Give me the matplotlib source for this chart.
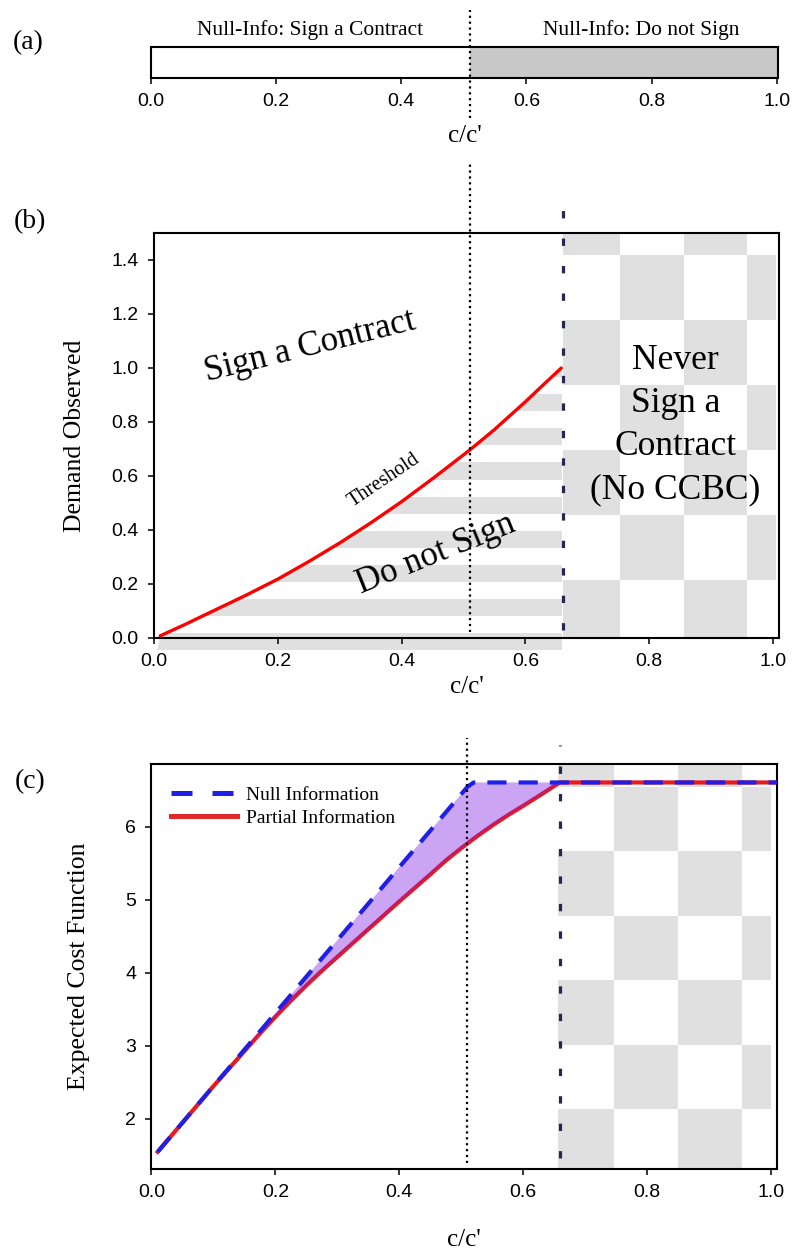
import numpy as np
import matplotlib
matplotlib.use("Agg")
import matplotlib.pyplot as plt
from matplotlib.patches import Polygon, Rectangle
from matplotlib.lines import Line2D

plt.rcParams['font.family'] = ['Liberation Serif', 'DejaVu Serif']

# ---- data ----
null_switch = 0.51      # null-info: sign below, do not sign above
never_sign = 0.66       # beyond this c/c' no contract is ever signed

# threshold of observed demand (panel b)
thresh_c = [0.01, 0.05, 0.1, 0.15, 0.2, 0.25, 0.3, 0.35, 0.4, 0.45, 0.51, 0.55, 0.6, 0.63, 0.658]
thresh_d = [0.008, 0.05, 0.105, 0.16, 0.218, 0.283, 0.352, 0.426, 0.505, 0.59, 0.696, 0.772, 0.875, 0.94, 1.0]

# expected cost (panel c)
null_c = [0.01, 0.51, 0.52, 1.01]
null_v = [1.55, 6.55, 6.61, 6.61]
part_c = [0.01, 0.1, 0.15, 0.175, 0.2, 0.225, 0.25, 0.275, 0.3, 0.35, 0.4, 0.45, 0.475,
          0.5, 0.525, 0.55, 0.575, 0.6, 0.63, 0.659, 1.01]
part_v = [1.55, 2.45, 2.93, 3.17, 3.40, 3.62, 3.83, 4.03, 4.22, 4.6, 4.98, 5.35, 5.54,
          5.71, 5.87, 6.02, 6.16, 6.29, 6.45, 6.61, 6.61]

x_ticks = [0.0, 0.2, 0.4, 0.6, 0.8, 1.0]
b_yticks = [0.0, 0.2, 0.4, 0.6, 0.8, 1.0, 1.2, 1.4]
c_yticks = [2, 3, 4, 5, 6]

GREY = '#e0e0e0'
NAVY = '#26264f'

W, H = 803, 1254
fig = plt.figure(figsize=(W / 100, H / 100), dpi=100)


def px_axes(left, top, right, bottom):
    return fig.add_axes([left / W, 1 - bottom / H, (right - left) / W, (bottom - top) / H])


def style(ax, fs):
    for s in ax.spines.values():
        s.set_linewidth(1.5)
    ax.tick_params(direction='out', length=4, width=1.1, labelsize=fs,
                   labelfontfamily='Liberation Sans', pad=7)


def checker(ax, x0, x1, xgrid, xstep, ygrid, ystep, yhi):
    # grey/white board, columns counted from xgrid, rows from the bottom
    xs = np.arange(xgrid, x1 + xstep, xstep)
    ys = np.arange(ygrid, yhi + ystep, ystep)
    for j in range(len(xs) - 1):
        for i in range(len(ys) - 1):
            if (i + j) % 2:
                continue
            left = max(xs[j], x0)
            right = min(xs[j + 1], x1)
            if right <= left:
                continue
            ax.add_patch(Rectangle((left, ys[i]), right - left, ystep,
                                   facecolor=GREY, edgecolor='none', zorder=0))


# ---- (a) ----
ax_a = px_axes(151, 47, 778, 78)
ax_a.axvspan(null_switch, 1.01, color='#c8c8c8', zorder=0)
ax_a.set_xlim(0, 1.002)
ax_a.set_ylim(0, 1)
ax_a.set_yticks([])
ax_a.set_xticks(x_ticks)
style(ax_a, 14)
ax_a.axvline(null_switch, ymin=-1.3, ymax=2.2, color='black', ls=':', lw=1.6, clip_on=False)
ax_a.text(0.254, 1.55, 'Null-Info: Sign a Contract', ha='center', va='center', fontsize=15.5)
ax_a.text(0.784, 1.55, 'Null-Info: Do not Sign', ha='center', va='center', fontsize=15.5)
ax_a.set_xlabel("c/c'", fontsize=18)
ax_a.xaxis.set_label_coords(0.5, -1.5)

# ---- (b) ----
ax_b = px_axes(154, 233, 779, 638)
ax_b.set_xlim(0, 1.0097)
ax_b.set_ylim(0, 1.5)

# horizontal stripes under the threshold curve
region = Polygon(list(zip(thresh_c, thresh_d)) + [(never_sign, 1.0), (never_sign, -0.1), (0.0, -0.1)],
                 closed=True, facecolor='none', edgecolor='none', transform=ax_b.transData)
ax_b.add_patch(region)
for y0 in np.arange(0.081 - 0.1265, 1.0, 0.1265):
    band = ax_b.fill_between([0.0, 0.659], y0, y0 + 0.063, color=GREY, lw=0, zorder=0)
    band.set_clip_path(region)

checker(ax_b, never_sign, 1.005, 0.6505, 0.1025, 0.215 - 0.241, 0.241, 1.5)

ax_b.plot(thresh_c, thresh_d, color='#ff0000', lw=2.4, zorder=3, solid_capstyle='round')
ax_b.axvline(null_switch, ymin=0.015, ymax=1.173, color='black', ls=':', lw=1.6, clip_on=False, zorder=4)
ax_b.axvline(never_sign, ymin=0.02, ymax=1.064, color=NAVY, ls=(0, (2.3, 6.3)), lw=2.3,
             clip_on=False, zorder=4)

ax_b.text(0.252, 1.078, 'Sign a Contract', rotation=14, ha='center', va='center',
          rotation_mode='anchor', fontsize=25)
ax_b.text(0.456, 0.31, 'Do not Sign', rotation=22, ha='center', va='center',
          rotation_mode='anchor', fontsize=25)
ax_b.text(0.371, 0.585, 'Threshold', rotation=34, ha='center', va='center',
          rotation_mode='anchor', fontsize=14.5)
ax_b.text(0.842, 0.789, 'Never\nSign a\nContract\n(No CCBC)', ha='center', va='center',
          fontsize=25.5, linespacing=1.4)

ax_b.set_xticks(x_ticks)
ax_b.set_yticks(b_yticks)
style(ax_b, 14)
ax_b.set_xlabel("c/c'", fontsize=18)
ax_b.xaxis.set_label_coords(0.5, -0.094)
ax_b.set_ylabel('Demand Observed', fontsize=18.5)
ax_b.yaxis.set_label_coords(-0.109, 0.5)

# ---- (c) ----
ax_c = px_axes(151.5, 764, 777, 1169)
ax_c.set_xlim(0, 1.0097)
ax_c.set_ylim(1.315, 6.863)

checker(ax_c, 0.656, 1.0, 0.644, 0.103, 2.137 - 0.883, 0.883, 6.863)

ax_c.plot(part_c, part_v, color='#e8191f', lw=3, zorder=2, label='Partial Information')
# gap between the two cost curves
k = part_c.index(0.659)
gap_c = null_c[:3] + part_c[:k + 1][::-1]
gap_v = null_v[:3] + part_v[:k + 1][::-1]
ax_c.fill(gap_c, gap_v, color='#7d1ce4', alpha=0.4, lw=0, zorder=2.5)
ax_c.plot(null_c, null_v, color='#1f1fe8', lw=3, ls=(0, (4.6, 2.9)), zorder=3,
          label='Null Information')

ax_c.axvline(null_switch, ymin=0.015, ymax=1.064, color='black', ls=':', lw=1.6, clip_on=False, zorder=4)
ax_c.axvline(never_sign, ymin=0.027, ymax=1.047, color=NAVY, ls=(0, (2.3, 6.3)), lw=2.3,
             clip_on=False, zorder=4)

handles = [Line2D([], [], color='#1f1fe8', lw=3.6, ls=(0, (4.2, 4.0))),
           Line2D([], [], color='#e02a2a', lw=3.6)]
ax_c.legend(handles, ['Null Information', 'Partial Information'], loc='upper left',
            bbox_to_anchor=(0.031, 0.944), frameon=False, borderaxespad=0, borderpad=0,
            handlelength=3.4, handletextpad=0.45, labelspacing=0.25, fontsize=14)

ax_c.set_xticks(x_ticks)
ax_c.set_yticks(c_yticks)
style(ax_c, 14)
ax_c.set_xlabel("c/c'", fontsize=18)
ax_c.xaxis.set_label_coords(0.5, -0.148)
ax_c.set_ylabel('Expected Cost Function', fontsize=18.5)
ax_c.yaxis.set_label_coords(-0.098, 0.5)

# panel letters
for lab, (px, py) in zip(['(a)', '(b)', '(c)'], [(28, 43), (30, 222), (30, 782)]):
    fig.text(px / W, 1 - py / H, lab, ha='center', va='center', fontsize=20)

fig.savefig('out.png', dpi=100)
